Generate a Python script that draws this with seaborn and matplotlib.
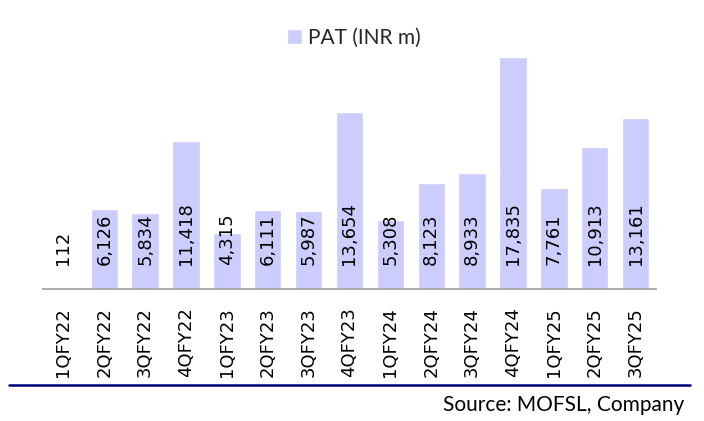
import matplotlib
matplotlib.use('Agg')
import matplotlib.pyplot as plt
import seaborn as sns; sns.set_style('white')
from matplotlib.lines import Line2D

quarters = ['1QFY22', '2QFY22', '3QFY22', '4QFY22', '1QFY23', '2QFY23', '3QFY23', '4QFY23',
            '1QFY24', '2QFY24', '3QFY24', '4QFY24', '1QFY25', '2QFY25', '3QFY25']
pat = [112, 6126, 5834, 11418, 4315, 6111, 5987, 13654, 5308, 8123, 8933, 17835, 7761, 10913, 13161]
series_name = 'PAT (INR m)'
source = 'Source: MOFSL, Company'

plt.rcParams['font.family'] = ['DejaVu Sans']

fig = plt.figure(figsize=(7.04, 4.21), dpi=100)
ax = fig.add_axes([43 / 704, 132 / 421, 613 / 704, 239 / 421])

sns.barplot(x=quarters, y=pat, color='#CCCCFF', saturation=1, width=0.67, ax=ax, label=series_name)

ax.set_xlim(-0.5, len(quarters) - 0.5)
ax.set_ylim(0, 18400)
ax.set_xlabel('')
ax.set_ylabel('')
ax.set_yticks([])
for s in ['top', 'left', 'right']:
    ax.spines[s].set_visible(False)
ax.spines['bottom'].set_color('#A6A6A6')
ax.spines['bottom'].set_linewidth(1.3)
ax.tick_params(axis='x', length=0, pad=13, labelsize=13, labelrotation=90, colors='black')

# data labels sit at a fixed height above the baseline
for i, v in enumerate(pat):
    ax.annotate(f'{v:,}', (i, 0), xytext=(0, 17), textcoords='offset points',
                rotation=90, ha='center', va='bottom', fontsize=13, color='black')

ax.legend(loc='center', bbox_to_anchor=(0.503, 0.91), bbox_transform=fig.transFigure,
          frameon=False, handlelength=0.7, handleheight=0.7, handletextpad=0.3,
          prop={'family': 'Lato', 'size': 15})

fig.add_artist(Line2D([9 / 704, 690 / 704], [1 - 385 / 421, 1 - 385 / 421],
                      transform=fig.transFigure, color='#000080', lw=1.8))
fig.text(684 / 704, 1 - 405 / 421, source, ha='right', va='center',
         family='Lato', fontsize=15, color='black')

fig.savefig('out.png', dpi=100)
